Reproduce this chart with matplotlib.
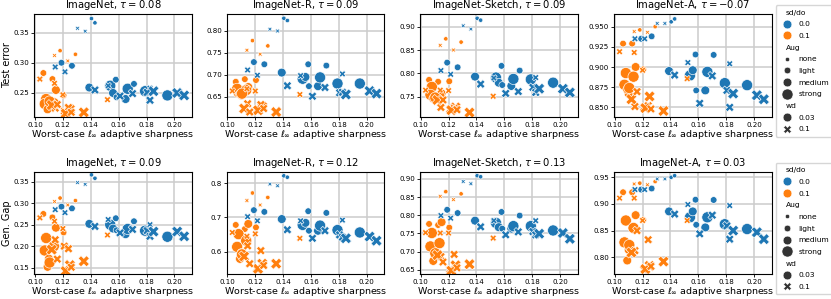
import matplotlib
matplotlib.use("Agg")
import matplotlib.pyplot as plt
from matplotlib.lines import Line2D
from matplotlib.ticker import MultipleLocator, FormatStrFormatter
import matplotlib.offsetbox as moff
import numpy as np

# ---------------- data ----------------
sharpness = [0.1405, 0.143, 0.1305, 0.136, 0.119, 0.1265, 0.1145, 0.1215, 0.139, 0.143,
             0.154, 0.158, 0.156, 0.1585, 0.165, 0.1665, 0.171, 0.170, 0.179, 0.1825,
             0.1805, 0.1825, 0.195, 0.202, 0.207, 0.1525, 0.161, 0.185,
             0.118, 0.129, 0.114, 0.1235, 0.106, 0.1125, 0.1035, 0.114, 0.115, 0.1205,
             0.152, 0.108, 0.107, 0.1135, 0.110, 0.109, 0.1145, 0.121, 0.125, 0.124,
             0.122, 0.135, 0.126, 0.112, 0.120, 0.116, 0.1105]
sd_do = ["0.0"] * 28 + ["0.1"] * 27
aug = ["none", "none", "none", "none", "light", "light", "light", "light", "medium", "medium",
       "strong", "light", "medium", "light", "medium", "strong", "light", "medium", "strong", "light",
       "medium", "medium", "strong", "strong", "strong", "light", "medium", "strong",
       "none", "none", "none", "none", "light", "light", "light", "light", "medium", "light",
       "light", "strong", "strong", "strong", "medium", "medium", "medium", "medium", "strong", "medium",
       "strong", "strong", "medium", "strong", "light", "medium", "strong"]
wd = ["0.03", "0.03", "0.1", "0.1", "0.03", "0.03", "0.1", "0.1", "0.03", "0.1",
      "0.03", "0.03", "0.03", "0.03", "0.03", "0.03", "0.03", "0.1", "0.03", "0.1",
      "0.1", "0.1", "0.03", "0.1", "0.1", "0.1", "0.1", "0.1",
      "0.03", "0.03", "0.1", "0.1", "0.03", "0.03", "0.1", "0.1", "0.03", "0.03",
      "0.1", "0.03", "0.03", "0.03", "0.03", "0.03", "0.1", "0.1", "0.1", "0.1",
      "0.1", "0.1", "0.1", "0.1", "0.1", "0.1", "0.03"]

imagenet_err = [0.373, 0.366, 0.357, 0.352, 0.300, 0.295, 0.293, 0.285, 0.259, 0.255,
                0.262, 0.272, 0.250, 0.243, 0.240, 0.257, 0.265, 0.249, 0.253, 0.258,
                0.251, 0.238, 0.246, 0.250, 0.246, 0.262, 0.245, 0.253,
                0.320, 0.314, 0.312, 0.303, 0.283, 0.273, 0.273, 0.266, 0.255, 0.246,
                0.239, 0.240, 0.232, 0.233, 0.227, 0.223, 0.225, 0.220, 0.223, 0.226,
                0.216, 0.218, 0.218, 0.230, 0.247, 0.231, 0.236]
imagenet_r_err = [0.829, 0.824, 0.804, 0.800, 0.729, 0.724, 0.711, 0.699, 0.705, 0.675,
                  0.691, 0.724, 0.695, 0.674, 0.674, 0.694, 0.721, 0.671, 0.680, 0.702,
                  0.659, 0.660, 0.680, 0.663, 0.657, 0.698, 0.651, 0.655,
                  0.778, 0.766, 0.756, 0.747, 0.684, 0.690, 0.663, 0.668, 0.672, 0.688,
                  0.655, 0.660, 0.668, 0.665, 0.653, 0.656, 0.634, 0.619, 0.627, 0.632,
                  0.619, 0.615, 0.623, 0.623, 0.663, 0.615, 0.657]
imagenet_s_err = [0.918, 0.914, 0.902, 0.895, 0.823, 0.813, 0.806, 0.798, 0.793, 0.777,
                  0.791, 0.816, 0.780, 0.775, 0.773, 0.788, 0.806, 0.761, 0.787, 0.791,
                  0.770, 0.759, 0.780, 0.767, 0.759, 0.790, 0.757, 0.767,
                  0.874, 0.867, 0.860, 0.850, 0.786, 0.782, 0.764, 0.764, 0.757, 0.783,
                  0.751, 0.771, 0.754, 0.750, 0.744, 0.746, 0.727, 0.723, 0.727, 0.725,
                  0.721, 0.716, 0.722, 0.743, 0.763, 0.743, 0.748]
imagenet_a_err = [0.956, 0.9596, 0.954, 0.954, 0.935, 0.938, 0.935, 0.935, 0.895, 0.890,
                  0.8895, 0.9155, 0.896, 0.871, 0.871, 0.894, 0.915, 0.889, 0.880, 0.904,
                  0.871, 0.850, 0.8775, 0.865, 0.860, 0.9055, 0.855, 0.867,
                  0.946, 0.950, 0.944, 0.943, 0.929, 0.929, 0.919, 0.918, 0.900, 0.897,
                  0.8855, 0.8925, 0.878, 0.888, 0.867, 0.872, 0.851, 0.850, 0.8635, 0.852,
                  0.849, 0.8455, 0.848, 0.860, 0.896, 0.8695, 0.874]
imagenet_gap = [0.366, 0.358, 0.348, 0.344, 0.292, 0.288, 0.285, 0.278, 0.252, 0.246,
                0.250, 0.265, 0.241, 0.237, 0.228, 0.240, 0.258, 0.239, 0.236, 0.250,
                0.236, 0.223, 0.222, 0.234, 0.223, 0.262, 0.231, 0.234,
                0.312, 0.306, 0.304, 0.296, 0.275, 0.267, 0.266, 0.258, 0.243, 0.232,
                0.226, 0.219, 0.190, 0.200, 0.171, 0.152, 0.215, 0.200, 0.156, 0.194,
                0.142, 0.165, 0.151, 0.192, 0.241, 0.170, 0.162]
imagenet_r_gap = [0.821, 0.817, 0.797, 0.792, 0.721, 0.716, 0.702, 0.690, 0.695, 0.664,
                  0.678, 0.718, 0.684, 0.661, 0.661, 0.676, 0.713, 0.661, 0.663, 0.692,
                  0.649, 0.642, 0.656, 0.644, 0.632, 0.690, 0.639, 0.639,
                  0.771, 0.758, 0.749, 0.736, 0.678, 0.666, 0.656, 0.645, 0.681, 0.671,
                  0.639, 0.651, 0.614, 0.632, 0.596, 0.579, 0.617, 0.551, 0.565, 0.603,
                  0.550, 0.565, 0.560, 0.586, 0.652, 0.565, 0.592]
imagenet_s_gap = [0.909, 0.906, 0.893, 0.887, 0.815, 0.806, 0.799, 0.792, 0.785, 0.768,
                  0.779, 0.809, 0.767, 0.763, 0.763, 0.770, 0.799, 0.754, 0.770, 0.785,
                  0.755, 0.746, 0.758, 0.751, 0.735, 0.785, 0.746, 0.749,
                  0.865, 0.859, 0.852, 0.843, 0.776, 0.773, 0.752, 0.751, 0.781, 0.766,
                  0.737, 0.751, 0.714, 0.723, 0.695, 0.674, 0.686, 0.650, 0.662, 0.692,
                  0.647, 0.665, 0.655, 0.690, 0.751, 0.671, 0.695]
imagenet_a_gap = [0.950, 0.953, 0.947, 0.947, 0.927, 0.929, 0.927, 0.927, 0.886, 0.881,
                  0.875, 0.908, 0.886, 0.861, 0.856, 0.875, 0.9075, 0.879, 0.862, 0.897,
                  0.859, 0.834, 0.853, 0.847, 0.834, 0.899, 0.844, 0.850,
                  0.939, 0.942, 0.9375, 0.936, 0.922, 0.922, 0.911, 0.911, 0.879, 0.870,
                  0.869, 0.869, 0.828, 0.855, 0.814, 0.794, 0.8125, 0.777, 0.784, 0.833,
                  0.778, 0.792, 0.783, 0.809, 0.869, 0.850, 0.823]

titles_top = ["ImageNet, $\\tau=0.08$", "ImageNet-R, $\\tau=0.09$",
              "ImageNet-Sketch, $\\tau=0.09$", "ImageNet-A, $\\tau=-0.07$"]
titles_bot = ["ImageNet, $\\tau=0.09$", "ImageNet-R, $\\tau=0.12$",
              "ImageNet-Sketch, $\\tau=0.13$", "ImageNet-A, $\\tau=0.03$"]
row_ylabels = ["Test error", "Gen. Gap"]
xlabel = "Worst-case $\\ell_\\infty$ adaptive sharpness"

# ---------------- style ----------------
hue_colors = {"0.0": "#1f77b4", "0.1": "#ff7f0e"}
aug_sizes = {"none": 10, "light": 23, "medium": 40, "strong": 64}
wd_markers = {"0.03": "o", "0.1": "X"}

panels = [
    [(imagenet_err, (0.2108, 0.3806), 0.05, "%.2f"),
     (imagenet_r_err, (0.6043, 0.8388), 0.05, "%.2f"),
     (imagenet_s_err, (0.7071, 0.9272), 0.05, "%.2f"),
     (imagenet_a_err, (0.8384, 0.9657), 0.025, "%.3f")],
    [(imagenet_gap, (0.1353, 0.3733), 0.05, "%.2f"),
     (imagenet_r_gap, (0.535, 0.833), 0.1, "%.1f"),
     (imagenet_s_gap, (0.638, 0.920), 0.05, "%.2f"),
     (imagenet_a_gap, (0.7687, 0.9605), 0.05, "%.2f")],
]

W, H = 831, 299
fig = plt.figure(figsize=(W / 100, H / 100), dpi=100)
lefts = [34.3, 226.7, 420.0, 614.0]
axw = 157.5
tops = [14.0, 171.7]
axh = [102.7, 102.3]

x = np.array(sharpness)
cols = np.array([hue_colors[s] for s in sd_do])
sizes = np.array([aug_sizes[a] for a in aug])
mk = np.array(wd)

for r in range(2):
    for c in range(4):
        yvals, ylim, ystep, yfmt = panels[r][c]
        y = np.array(yvals)
        ax = fig.add_axes([lefts[c] / W, 1 - (tops[r] + axh[r]) / H, axw / W, axh[r] / H])
        ax.set_axisbelow(True)
        ax.grid(True, color="#cccccc", linewidth=1.1)
        for wkey, m in wd_markers.items():
            sel = mk == wkey
            ax.scatter(x[sel], y[sel], s=sizes[sel], c=cols[sel], marker=m,
                       edgecolors="white", linewidths=0.45, zorder=2)
        ax.set_xlim(0.0995, 0.2125)
        ax.set_ylim(*ylim)
        ax.xaxis.set_major_locator(MultipleLocator(0.02))
        ax.xaxis.set_major_formatter(FormatStrFormatter("%.2f"))
        ax.yaxis.set_major_locator(MultipleLocator(ystep))
        ax.yaxis.set_major_formatter(FormatStrFormatter(yfmt))
        ax.tick_params(labelsize=5.1, length=2, width=0.6, pad=1.5)
        for sp in ax.spines.values():
            sp.set_linewidth(0.8)
        ax.set_xlabel(xlabel, fontsize=6.8, labelpad=0.3)
        t = titles_top if r == 0 else titles_bot
        ax.set_title(t[c], fontsize=7.2, pad=4)
        if c == 0:
            ax.set_ylabel(row_ylabels[r], fontsize=7, labelpad=1)
        if c == 3:
            gray = "#333333"
            handles, labels = [], []
            def header(name):
                handles.append(Line2D([], [], visible=False))
                labels.append(name)
            header("sd/do")
            for k, col in hue_colors.items():
                handles.append(Line2D([], [], ls="", marker="o", ms=np.sqrt(40), color=col,
                                      mec="white", mew=0.45))
                labels.append(k)
            header("Aug")
            for k, s in aug_sizes.items():
                handles.append(Line2D([], [], ls="", marker="o", ms=np.sqrt(s), color=gray,
                                      mec="white", mew=0.45))
                labels.append(k)
            header("wd")
            for k, m in wd_markers.items():
                handles.append(Line2D([], [], ls="", marker=m, ms=np.sqrt(40), color=gray,
                                      mec="white", mew=0.45))
                labels.append(k)
            leg = ax.legend(handles, labels, loc="upper left",
                            bbox_to_anchor=((775.7 - 614) / axw, 1 + 9 / axh[r]),
                            borderaxespad=0, fontsize=5.4, labelspacing=0.72,
                            handletextpad=0.7, borderpad=0.6, handlelength=1.7,
                            frameon=True)
            vp = leg.findobj(moff.VPacker)[0]
            for hp in vp.get_children():
                da, ta = hp.get_children()
                if not all(a.get_visible() for a in da.get_children()):
                    da.set_width(0)

fig.savefig("out.png", dpi=100)
